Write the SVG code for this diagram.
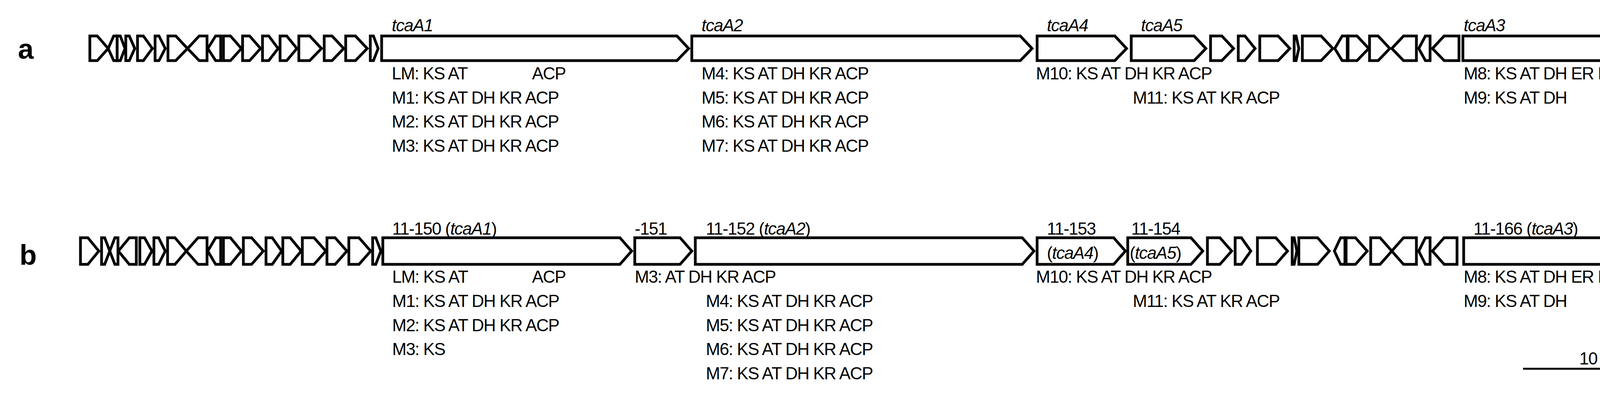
<svg xmlns="http://www.w3.org/2000/svg" width="4398" height="1005" viewBox="0 0 4398 1005">
<style>
.g{fill:#fff;stroke:#000;stroke-width:7;stroke-linejoin:miter}
text{font-family:"Liberation Sans",Arial,sans-serif;font-size:44px;letter-spacing:-1.5px;fill:#000}
.i{font-style:italic}
.p{font-size:72px;font-weight:bold;letter-spacing:0}
</style>
<rect width="4398" height="1005" fill="#fff"/>
<g id="panel-a">
<text class="p" x="46" y="150">a</text>
<g id="a-genes">
<polygon class="g" points="230,92 249,92 277,124 249,155 230,155"/>
<polygon class="g" points="300,92 291,92 277,124 291,155 300,155"/>
<polygon class="g" points="300,92 308,92 320,124 308,155 300,155"/>
<polygon class="g" points="322,92 331,92 345,124 331,155 322,155"/>
<polygon class="g" points="352,92 367,92 390,124 367,155 352,155"/>
<polygon class="g" points="397,92 407,92 423,124 407,155 397,155"/>
<polygon class="g" points="430,92 450,92 480,124 450,155 430,155"/>
<polygon class="g" points="530,92 510,92 480,124 510,155 530,155"/>
<polygon class="g" points="565,92 552,92 532,124 552,155 565,155"/>
<polygon class="g" points="572,92 590,92 618,124 590,155 572,155"/>
<polygon class="g" points="621,92 639,92 667,124 639,155 621,155"/>
<polygon class="g" points="672,92 688,92 712,124 688,155 672,155"/>
<polygon class="g" points="717,92 734,92 760,124 734,155 717,155"/>
<polygon class="g" points="765,92 793,92 823,124 793,155 765,155"/>
<polygon class="g" points="830,92 850,92 880,124 850,155 830,155"/>
<polygon class="g" points="885,92 910,92 940,124 910,155 885,155"/>
<polygon class="g" points="948,92 956,92 968,124 956,155 948,155"/>
</g>
<g id="a-tcaA1"><polygon class="g" points="977,92 1733,92 1763,124 1733,155 977,155"/>
<text class="i" x="1003" y="80">tcaA1</text>
<text x="1003" y="203">LM: KS AT</text><text x="1362" y="203">ACP</text>
<text x="1003" y="265">M1: KS AT DH KR ACP</text>
<text x="1003" y="326">M2: KS AT DH KR ACP</text>
<text x="1003" y="388">M3: KS AT DH KR ACP</text></g>
<g id="a-tcaA2"><polygon class="g" points="1771,92 2612,92 2642,124 2612,155 1771,155"/>
<text class="i" x="1796" y="80">tcaA2</text>
<text x="1796" y="203">M4: KS AT DH KR ACP</text>
<text x="1796" y="265">M5: KS AT DH KR ACP</text>
<text x="1796" y="326">M6: KS AT DH KR ACP</text>
<text x="1796" y="388">M7: KS AT DH KR ACP</text></g>
<g id="a-tcaA4"><polygon class="g" points="2655,92 2854,92 2884,124 2854,155 2655,155"/>
<text class="i" x="2680" y="80">tcaA4</text>
<text x="2652" y="203">M10: KS AT DH KR ACP</text></g>
<g id="a-tcaA5"><polygon class="g" points="2896,92 3057,92 3087,124 3057,155 2896,155"/>
<text class="i" x="2921" y="80">tcaA5</text>
<text x="2900" y="265">M11: KS AT KR ACP</text></g>
<g id="a-genes2">
<polygon class="g" points="3099,92 3128,92 3158,124 3128,155 3099,155"/>
<polygon class="g" points="3170,92 3187,92 3213,124 3187,155 3170,155"/>
<polygon class="g" points="3225,92 3272,92 3302,124 3272,155 3225,155"/>
<polygon class="g" points="3313,92 3318,92 3325,124 3318,155 3313,155"/>
<polygon class="g" points="3334,92 3382,92 3412,124 3382,155 3334,155"/>
<polygon class="g" points="3449,92 3436,92 3417,124 3436,155 3449,155"/>
<polygon class="g" points="3451,92 3474,92 3504,124 3474,155 3451,155"/>
<polygon class="g" points="3506,92 3528,92 3558,124 3528,155 3506,155"/>
<polygon class="g" points="3626,92 3593,92 3563,124 3593,155 3626,155"/>
<polygon class="g" points="3661,92 3649,92 3632,124 3649,155 3661,155"/>
<polygon class="g" points="3735,92 3697,92 3667,124 3697,155 3735,155"/>
</g>
<g id="a-tcaA3"><polygon class="g" points="3745,92 4210,92 4240,124 4210,155 3745,155"/>
<text class="i" x="3747" y="80">tcaA3</text>
<text x="3747" y="203">M8: KS AT DH ER KR ACP</text>
<text x="3747" y="265">M9: KS AT DH</text><text x="4108" y="265">KR ACP</text></g>
<g id="a-genes3">
<polygon class="g" points="4283,92 4267,92 4243,124 4267,155 4283,155"/>
<polygon class="g" points="4352,92 4316,92 4286,124 4316,155 4352,155"/>
</g>
</g>
<g id="panel-b">
<text class="p" x="50" y="677">b</text>
<g id="b-genes">
<polygon class="g" points="206,608 225,608 253,642 225,676 206,676"/>
<polygon class="g" points="260,608 268,608 281,642 268,676 260,676"/>
<polygon class="g" points="302,608 294,608 281,642 294,676 302,676"/>
<polygon class="g" points="349,608 331,608 303,642 331,676 349,676"/>
<polygon class="g" points="358,608 370,608 389,642 370,676 358,676"/>
<polygon class="g" points="394,608 406,608 423,642 406,676 394,676"/>
<polygon class="g" points="429,608 448,608 477,642 448,676 429,676"/>
<polygon class="g" points="530,608 507,608 477,642 507,676 530,676"/>
<polygon class="g" points="565,608 552,608 532,642 552,676 565,676"/>
<polygon class="g" points="572,608 590,608 618,642 590,676 572,676"/>
<polygon class="g" points="623,608 644,608 674,642 644,676 623,676"/>
<polygon class="g" points="681,608 697,608 721,642 697,676 681,676"/>
<polygon class="g" points="724,608 743,608 771,642 743,676 724,676"/>
<polygon class="g" points="774,608 804,608 834,642 804,676 774,676"/>
<polygon class="g" points="837,608 858,608 888,642 858,676 837,676"/>
<polygon class="g" points="893,608 919,608 949,642 919,676 893,676"/>
<polygon class="g" points="954,608 962,608 975,642 962,676 954,676"/>
</g>
<g id="b-11-150"><polygon class="g" points="980,608 1587,608 1617,642 1587,676 980,676"/>
<text x="1004" y="600">11-150 (<tspan class="i">tcaA1</tspan>)</text>
<text x="1004" y="723">LM: KS AT</text><text x="1362" y="723">ACP</text>
<text x="1004" y="785">M1: KS AT DH KR ACP</text>
<text x="1004" y="847">M2: KS AT DH KR ACP</text>
<text x="1004" y="908">M3: KS</text></g>
<g id="b-151"><polygon class="g" points="1625,608 1741,608 1771,642 1741,676 1625,676"/>
<text x="1625" y="600">-151</text>
<text x="1625" y="723">M3: AT DH KR ACP</text></g>
<g id="b-11-152"><polygon class="g" points="1780,608 2617,608 2647,642 2617,676 1780,676"/>
<text x="1807" y="600">11-152 (<tspan class="i">tcaA2</tspan>)</text>
<text x="1807" y="785">M4: KS AT DH KR ACP</text>
<text x="1807" y="847">M5: KS AT DH KR ACP</text>
<text x="1807" y="908">M6: KS AT DH KR ACP</text>
<text x="1807" y="970">M7: KS AT DH KR ACP</text></g>
<g id="b-11-153"><polygon class="g" points="2655,608 2851,608 2881,642 2851,676 2655,676"/>
<text x="2680" y="600">11-153</text>
<text x="2680" y="662">(<tspan class="i">tcaA4</tspan>)</text>
<text x="2652" y="723">M10: KS AT DH KR ACP</text></g>
<g id="b-11-154"><polygon class="g" points="2887,608 3049,608 3079,642 3049,676 2887,676"/>
<text x="2896" y="600">11-154</text>
<text x="2892" y="662">(<tspan class="i">tcaA5</tspan>)</text>
<text x="2900" y="785">M11: KS AT KR ACP</text></g>
<g id="b-genes2">
<polygon class="g" points="3091,608 3123,608 3153,642 3123,676 3091,676"/>
<polygon class="g" points="3162,608 3178,608 3202,642 3178,676 3162,676"/>
<polygon class="g" points="3219,608 3266,608 3296,642 3266,676 3219,676"/>
<polygon class="g" points="3308,608 3313,608 3320,642 3313,676 3308,676"/>
<polygon class="g" points="3325,608 3373,608 3403,642 3373,676 3325,676"/>
<polygon class="g" points="3443,608 3432,608 3416,642 3432,676 3443,676"/>
<polygon class="g" points="3446,608 3470,608 3500,642 3470,676 3446,676"/>
<polygon class="g" points="3509,608 3533,608 3563,642 3533,676 3509,676"/>
<polygon class="g" points="3626,608 3593,608 3563,642 3593,676 3626,676"/>
<polygon class="g" points="3661,608 3649,608 3632,642 3649,676 3661,676"/>
<polygon class="g" points="3730,608 3697,608 3667,642 3697,676 3730,676"/>
</g>
<g id="b-11-166"><polygon class="g" points="3747,608 4208,608 4238,642 4208,676 3747,676"/>
<text x="3772" y="600">11-166 (<tspan class="i">tcaA3</tspan>)</text>
<text x="3747" y="723">M8: KS AT DH ER KR ACP</text>
<text x="3747" y="785">M9: KS AT DH</text><text x="4108" y="785">KR ACP</text></g>
<g id="b-genes3">
<polygon class="g" points="4283,608 4268,608 4246,642 4268,676 4283,676"/>
<polygon class="g" points="4351,608 4316,608 4286,642 4316,676 4351,676"/>
</g>
</g>
<g id="scale">
<line x1="3899" y1="943" x2="4314" y2="943" stroke="#000" stroke-width="5"/>
<text x="4093" y="932" text-anchor="middle">10 kb</text>
</g>
</svg>
